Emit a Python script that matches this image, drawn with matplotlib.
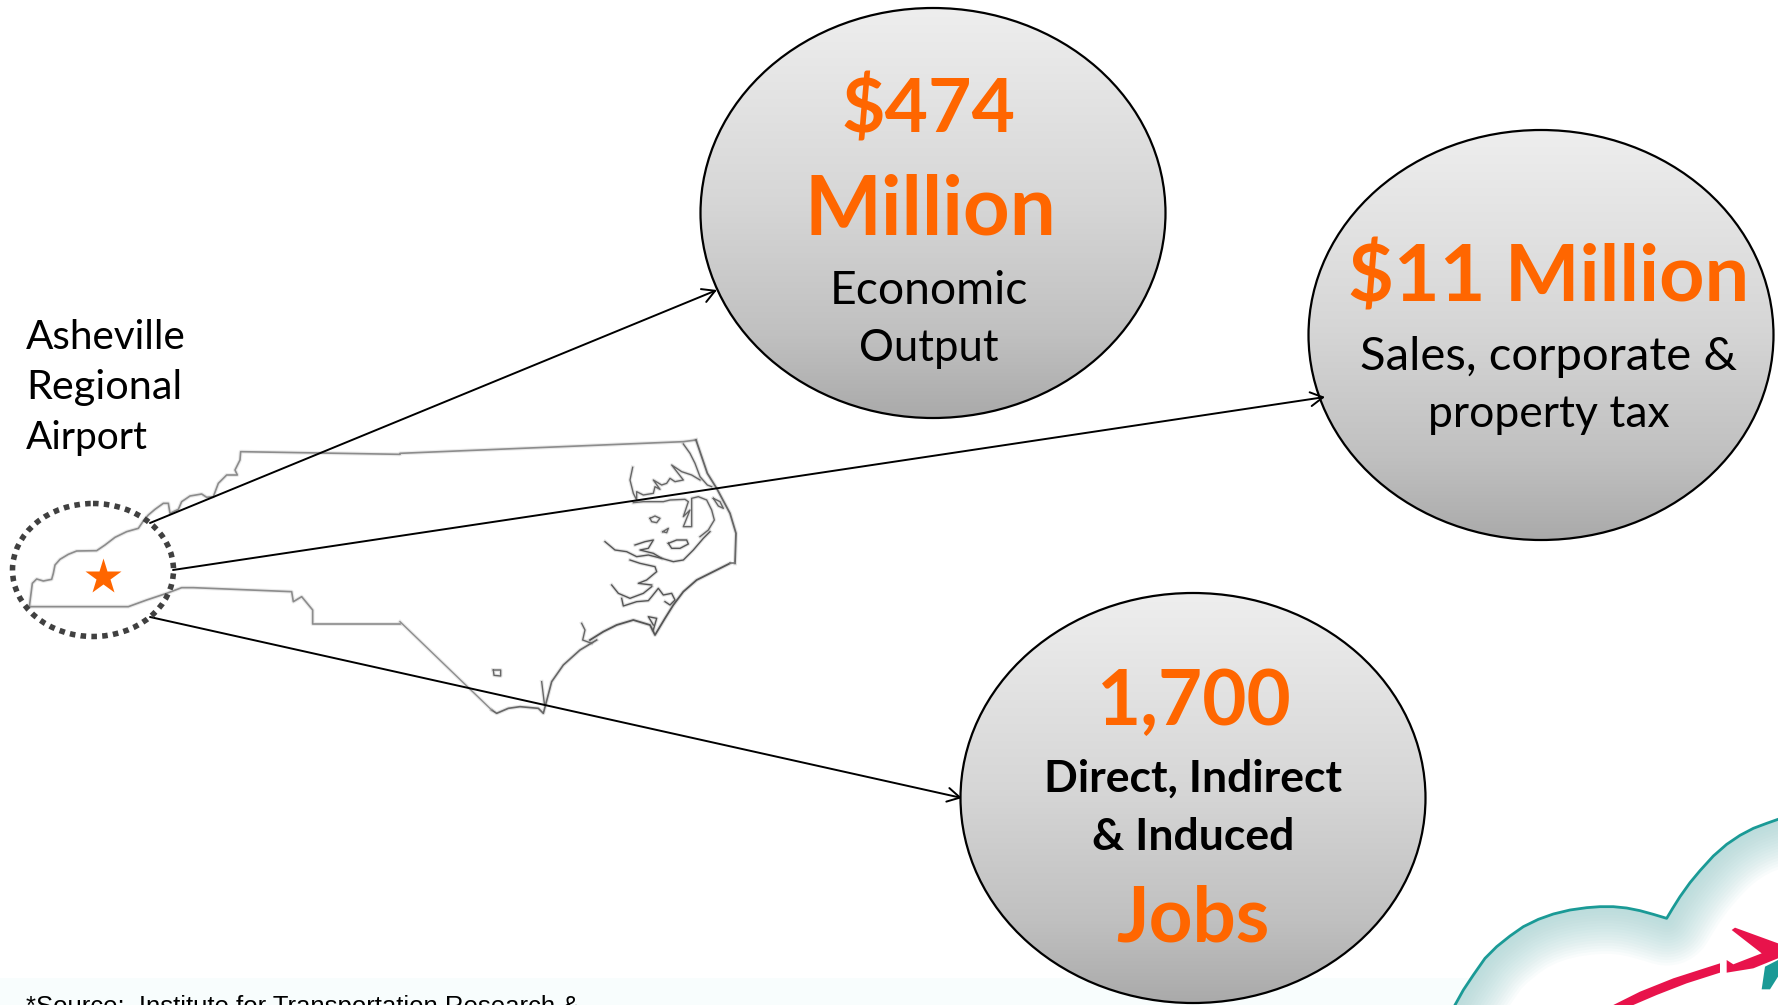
import numpy as np
import matplotlib
matplotlib.use("Agg")
import matplotlib.pyplot as plt
from matplotlib.patches import Ellipse, Polygon, FancyArrowPatch, Rectangle
from matplotlib.colors import LinearSegmentedColormap

plt.rcParams["font.family"] = ["Lato", "DejaVu Sans"]

ORANGE = "#ff6600"
TEAL = "#1a9a96"
RED = "#e8134b"

# circles: centre x, centre y
circle_x = [933, 1541, 1193]
circle_y = [213, 335, 798]

# arrows, pixels on the slide
arrow_start = [(150, 523), (173, 570), (150, 617)]
arrow_end = [(717, 290), (1325, 397), (962, 798)]

# state outline
west_top = [(88, 560), (97, 490), (110, 477), (130, 483), (155, 478), (160, 460), (165, 435), (180, 418),
            (205, 403), (230, 393), (290, 392), (315, 375), (345, 352), (380, 335), (415, 325), (432, 300),
            (445, 285), (465, 268), (490, 250), (505, 250), (510, 280), (535, 268), (545, 245), (570, 228),
            (605, 222), (620, 232), (640, 230), (655, 190), (680, 165), (712, 165), (705, 150), (720, 120),
            (722, 95), (1200, 103)]
north_line = [(0, 100), (850, 65), (888, 60)]
# crop at 620,430
outer_banks = [(228, 30), (262, 130), (290, 175), (330, 250), (348, 310), (345, 400)]
# crop at 590,530
south_coast = [(420, 100), (370, 125), (320, 150), (280, 185), (250, 225), (225, 265), (195, 315), (180, 285),
               (130, 270), (80, 285), (40, 305), (0, 330)]
# crop at 400,420
cape_fear = [(590, 660), (540, 690), (490, 735), (455, 785), (438, 850), (430, 880), (415, 865), (360, 860),
             (325, 865), (290, 880), (275, 870), (0, 605)]
west_bottom = [(1200, 612), (938, 612), (938, 570), (905, 530), (880, 545), (875, 515), (580, 503),
               (545, 503), (500, 520), (440, 540), (385, 560), (88, 560)]

# inlets and lakes, crop at 620,430
north_sounds = [
    [(190, 42), (210, 70), (225, 100), (240, 140), (262, 165), (275, 170)],
    [(38, 112), (30, 150), (40, 190), (50, 210), (50, 185), (70, 195), (100, 190), (105, 170), (120, 178),
     (100, 150), (125, 165), (140, 160), (150, 145), (165, 155), (190, 150), (155, 105), (185, 125),
     (215, 135), (240, 150)],
    [(40, 218), (70, 215), (130, 215), (150, 210), (195, 208), (205, 215), (190, 260), (210, 240), (190, 290),
     (215, 290), (215, 205), (235, 200), (260, 210), (275, 240), (283, 270), (265, 300), (240, 320)],
    [(90, 265), (105, 258), (120, 265), (110, 278), (95, 275), (90, 265)],
    [(128, 305), (145, 295), (140, 308), (128, 305)],
    [(280, 205), (300, 215), (310, 235), (295, 228), (280, 205)],
]
# crop at 590,530
south_sounds = [
    [(45, 35), (75, 60), (110, 65), (140, 80), (175, 75), (215, 85), (250, 95), (280, 90), (310, 60), (340, 25),
     (360, 5)],
    [(135, 45), (165, 35), (190, 30), (175, 55), (150, 60), (190, 70), (215, 85)],
    [(235, 40), (260, 30), (290, 30), (295, 42), (270, 55), (245, 55), (235, 40)],
    [(120, 90), (150, 100), (195, 110), (200, 125), (170, 150), (145, 160), (185, 165)],
    [(65, 165), (85, 190), (120, 205), (160, 190), (185, 170)],
    [(95, 205), (100, 228), (140, 215), (175, 212), (185, 200), (205, 175), (220, 195), (245, 190), (255, 210),
     (240, 225), (225, 215)],
    [(190, 300), (200, 265), (175, 260), (190, 285)],
]
# crop at 400,420
small_bits = [
    [(545, 610), (555, 630), (548, 660), (575, 670)],
    [(425, 785), (433, 850)],
    [(280, 750), (302, 750), (302, 768), (282, 766), (280, 750)],
]

# logo bits
cloud = [(165, 675), (190, 630), (220, 585), (255, 535), (290, 500), (330, 468), (370, 440), (415, 418),
         (460, 402), (510, 390), (560, 383), (600, 380), (640, 380), (680, 384), (720, 392), (760, 403),
         (800, 415), (818, 385), (840, 350), (870, 308), (900, 272), (940, 228), (980, 193), (1020, 166),
         (1060, 145), (1100, 130), (1134, 118)]
swoosh = [(640, 675), (720, 635), (820, 595), (960, 550), (960, 578), (860, 610), (770, 645), (700, 675)]
plane = [(980, 540), (1000, 553), (1085, 520), (995, 450), (1005, 443), (1134, 490), (1134, 535),
         (1060, 565), (980, 578)]
tail = [(1095, 560), (1134, 540), (1134, 590), (1110, 628), (1085, 628)]


def crop(points, x0, y0):
    return [(x0 + x / 3, y0 + y / 3) for x, y in points]


def map_line(ax, pts, color, lw):
    # faint wide line under the real one, the map in the slide is a blurry image
    ax.plot(*zip(*pts), color=color, lw=lw + 1.6, alpha=0.18, zorder=1)
    ax.plot(*zip(*pts), color=color, lw=lw, zorder=1)


fig = plt.figure(figsize=(17.78, 10.05), dpi=100)
ax = fig.add_axes([0, 0, 1, 1])

# pale band along the bottom
ax.add_patch(Rectangle((0, 978), 1778, 27, facecolor="#f8fdfd", edgecolor="none", zorder=0))

# state map
map_line(ax, crop(west_top, 0, 420) + crop(north_line, 400, 420), "#8c8c8c", 1.2)
map_line(ax, crop(west_bottom, 0, 420), "#8c8c8c", 1.2)
map_line(ax, crop(cape_fear, 400, 420)[:-1], "#666666", 1.2)
map_line(ax, crop(cape_fear, 400, 420)[-2:], "#8c8c8c", 1.0)
map_line(ax, crop(outer_banks, 620, 430), "#666666", 1.3)
map_line(ax, crop(south_coast, 590, 530), "#555555", 1.3)
ax.plot(*zip(*(crop(outer_banks, 620, 430)[-1:] + crop(south_coast, 590, 530)[:1])), color="#777777", lw=1.2, zorder=1)
for s in north_sounds:
    map_line(ax, crop(s, 620, 430), "#666666", 1.0)
for s in south_sounds:
    map_line(ax, crop(s, 590, 530), "#555555", 1.0)
for s in small_bits:
    map_line(ax, crop(s, 400, 420), "#666666", 1.0)

# grey gradient circles
grey = LinearSegmentedColormap.from_list(
    "grey", [(0, "#eeeeee"), (0.48, "#d6d6d6"), (0.8, "#c0c0c0"), (1, "#aaaaaa")])
grad = np.linspace(0, 1, 256).reshape(-1, 1)
for cx, cy in zip(circle_x, circle_y):
    e = Ellipse((cx, cy), 465, 410, facecolor="none", edgecolor="black", lw=1.6, zorder=3)
    ax.add_patch(e)
    im = ax.imshow(grad, cmap=grey, extent=(cx - 233, cx + 233, cy + 205, cy - 205),
                   aspect="auto", zorder=2)
    im.set_clip_path(Ellipse((cx, cy), 465, 410, transform=ax.transData))

for a, b in zip(arrow_start, arrow_end):
    ax.add_patch(FancyArrowPatch(a, b, arrowstyle="->,head_length=9,head_width=5",
                                 color="black", lw=1.4, shrinkA=0, shrinkB=0, zorder=4))

# airport marker
ax.add_patch(Ellipse((93, 570), 161, 133, facecolor="none", edgecolor="#404040",
                     lw=4, linestyle=(0, (1, 0.95)), zorder=4))
ax.plot([103], [577], marker="*", ms=27, color=ORANGE, mec="none", zorder=5)

# logo
cloud_pts = crop(cloud, 1400, 780)
body = Polygon(cloud_pts + [(1778, 1005)], closed=True, facecolor="white", edgecolor="none", zorder=1)
ax.add_patch(body)
for w in range(4, 72, 4):
    glow, = ax.plot(*zip(*cloud_pts), color="#9fd0cf", lw=w, alpha=0.06, solid_joinstyle="round", zorder=1.5)
    glow.set_clip_path(body)
ax.plot(*zip(*cloud_pts), color=TEAL, lw=2, zorder=2)
ax.add_patch(Polygon(crop(swoosh, 1400, 780), closed=True, facecolor=RED, edgecolor="none", zorder=3))
ax.add_patch(Polygon(crop(plane, 1400, 780), closed=True, facecolor=RED, edgecolor="none", zorder=3))
ax.add_patch(Polygon(crop(tail, 1400, 780), closed=True, facecolor=TEAL, edgecolor="none", zorder=3))

# circle text
ax.text(929, 110, "$474", color=ORANGE, fontsize=54, fontweight="bold", ha="center", va="center", zorder=6)
ax.text(930, 211, "Million", color=ORANGE, fontsize=58.7, fontweight="bold", ha="center", va="center", zorder=6)
ax.text(929, 291, "Economic", color="black", fontsize=33.3, ha="center", va="center", zorder=6)
ax.text(929, 348, "Output", color="black", fontsize=31.5, ha="center", va="center", zorder=6)

ax.text(1549, 279, "$11 Million", color=ORANGE, fontsize=57, fontweight="bold", ha="center", va="center", zorder=6)
ax.text(1549, 357, "Sales, corporate &", color="black", fontsize=34, ha="center", va="center", zorder=6)
ax.text(1549, 414, "property tax", color="black", fontsize=32, ha="center", va="center", zorder=6)

ax.text(1194, 703, "1,700", color=ORANGE, fontsize=55, fontweight="bold", ha="center", va="center", zorder=6)
ax.text(1193, 779, "Direct, Indirect", color="black", fontsize=32, fontweight="bold", ha="center", va="center", zorder=6)
ax.text(1193, 837, "& Induced", color="black", fontsize=32, fontweight="bold", ha="center", va="center", zorder=6)
ax.text(1193, 919, "Jobs", color=ORANGE, fontsize=55, fontweight="bold", ha="center", va="center", zorder=6)

# left label
for y, t, s in zip([337, 387, 438], ["Asheville", "Regional", "Airport"], [29.2, 29.8, 28]):
    ax.text(26, y, t, color="black", fontsize=s, ha="left", va="center", zorder=6)

ax.text(26, 1014, "*Source:  Institute for Transportation Research &", color="black", fontsize=18.5,
        family=["Liberation Sans", "DejaVu Sans"], ha="left", va="baseline", zorder=6)

ax.set_xlim(0, 1778)
ax.set_ylim(1005, 0)
ax.axis("off")

fig.savefig("out.png", dpi=100)
plt.close(fig)
